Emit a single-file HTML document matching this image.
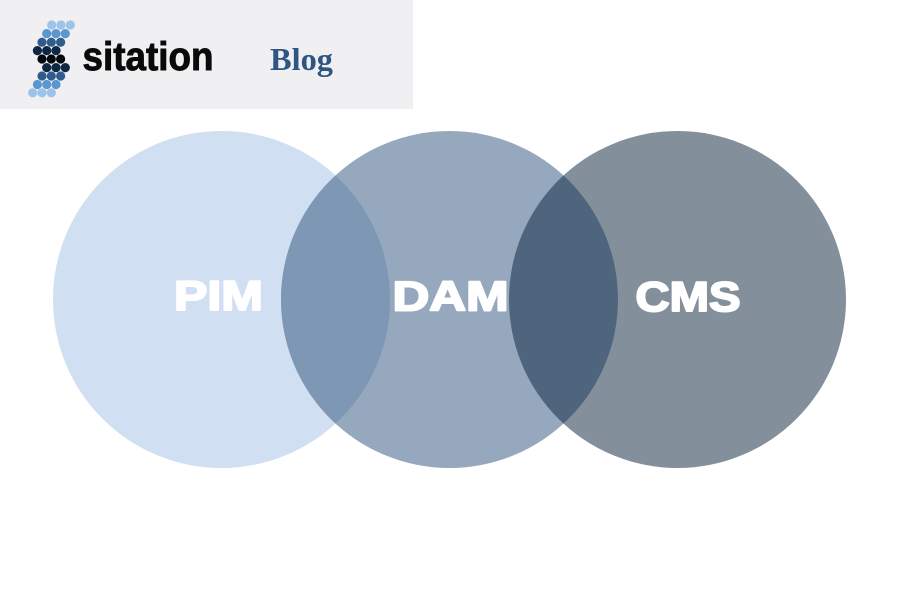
<!DOCTYPE html>
<html><head><meta charset="utf-8"><style>
html,body{margin:0;padding:0;background:#fff;width:900px;height:600px;overflow:hidden}
svg{display:block}
</style></head><body>
<svg width="900" height="600" viewBox="0 0 900 600" xmlns="http://www.w3.org/2000/svg">
<defs>
<clipPath id="cPIM"><circle cx="221.5" cy="299.5" r="168.5"/></clipPath>
<clipPath id="cCMS"><circle cx="677.5" cy="299.5" r="168.5"/></clipPath>
</defs>
<rect x="0" y="0" width="900" height="600" fill="#ffffff"/>
<rect x="0" y="0" width="413" height="109" fill="#f0f0f2"/>
<!-- logo dots -->
<g>
<circle cx="51.7" cy="25" r="4.6" fill="#9ec3e8"/><circle cx="61" cy="25" r="4.6" fill="#9ec3e8"/><circle cx="70.3" cy="25" r="4.6" fill="#9ec3e8"/>
<circle cx="46.7" cy="33.6" r="4.6" fill="#5b97cf"/><circle cx="56" cy="33.6" r="4.6" fill="#5b97cf"/><circle cx="65.3" cy="33.6" r="4.6" fill="#5b97cf"/>
<circle cx="42" cy="42.2" r="4.6" fill="#2f5c8c"/><circle cx="51.3" cy="42.2" r="4.6" fill="#2f5c8c"/><circle cx="60.6" cy="42.2" r="4.6" fill="#2f5c8c"/>
<circle cx="37.4" cy="50.6" r="4.6" fill="#0e2744"/><circle cx="46.7" cy="50.6" r="4.6" fill="#0e2744"/><circle cx="56" cy="50.6" r="4.6" fill="#0e2744"/>
<circle cx="42" cy="59" r="4.6" fill="#03070d"/><circle cx="51.3" cy="59" r="4.6" fill="#03070d"/><circle cx="60.6" cy="59" r="4.6" fill="#03070d"/>
<circle cx="46.7" cy="67.6" r="4.6" fill="#0e2744"/><circle cx="56" cy="67.6" r="4.6" fill="#0e2744"/><circle cx="65.3" cy="67.6" r="4.6" fill="#0e2744"/>
<circle cx="42" cy="76" r="4.6" fill="#2f5c8c"/><circle cx="51.3" cy="76" r="4.6" fill="#2f5c8c"/><circle cx="60.6" cy="76" r="4.6" fill="#2f5c8c"/>
<circle cx="37.4" cy="84.5" r="4.6" fill="#5b97cf"/><circle cx="46.7" cy="84.5" r="4.6" fill="#5b97cf"/><circle cx="56" cy="84.5" r="4.6" fill="#5b97cf"/>
<circle cx="32.7" cy="92.8" r="4.6" fill="#9ec3e8"/><circle cx="42" cy="92.8" r="4.6" fill="#9ec3e8"/><circle cx="51.3" cy="92.8" r="4.6" fill="#9ec3e8"/>
</g>
<text x="82.5" y="70" font-family="Liberation Sans, sans-serif" font-weight="bold" font-size="40" fill="#0a0a0a" stroke="#0a0a0a" stroke-width="0.9" textLength="131" lengthAdjust="spacingAndGlyphs">sitation</text>
<text x="270" y="70" font-family="Liberation Serif, serif" font-weight="bold" font-size="32" fill="#2f5683" textLength="63" lengthAdjust="spacingAndGlyphs">Blog</text>
<!-- circles -->
<circle cx="221.5" cy="299.5" r="168.5" fill="#d0dff1"/>
<circle cx="449.5" cy="299.5" r="168.5" fill="#96a8be"/>
<circle cx="677.5" cy="299.5" r="168.5" fill="#848f9c"/>
<circle cx="449.5" cy="299.5" r="168.5" fill="#7d97b4" clip-path="url(#cPIM)"/>
<circle cx="449.5" cy="299.5" r="168.5" fill="#4f657d" clip-path="url(#cCMS)"/>
<!-- labels -->
<g font-family="Liberation Sans, sans-serif" font-weight="bold" font-size="42" fill="#ffffff" stroke="#ffffff" stroke-width="2" stroke-linejoin="round">
<text x="174" y="310" textLength="89" lengthAdjust="spacingAndGlyphs">PIM</text>
<text x="392.5" y="310.3" textLength="116" lengthAdjust="spacingAndGlyphs">DAM</text>
<text x="635.5" y="311" textLength="105" lengthAdjust="spacingAndGlyphs">CMS</text>
</g>
</svg>
</body></html>
